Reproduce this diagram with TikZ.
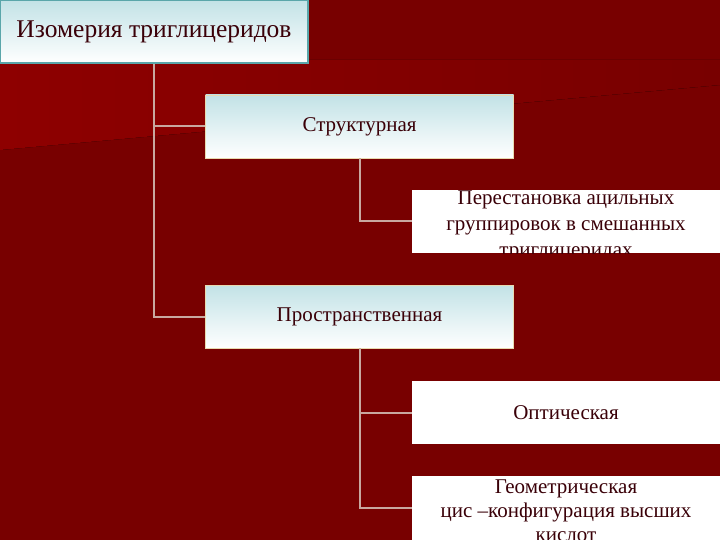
\documentclass[tikz,border=0pt]{standalone}
\usepackage{fontspec}
\setmainfont{Liberation Serif}
\usetikzlibrary{positioning}

\definecolor{slide}{HTML}{780000}
\definecolor{slidelight}{HTML}{8E0000}
\definecolor{wire}{HTML}{C8A8A0}
\definecolor{ink}{HTML}{3A0008}
\definecolor{frost}{HTML}{C2E2E6}
\definecolor{rim}{HTML}{E8DAB0}
\definecolor{tealrim}{HTML}{5AA6AA}

\begin{document}
\begin{tikzpicture}[x=1pt, y=-1pt,
  box/.style={rectangle, inner sep=0pt, minimum width=308pt, minimum height=63pt,
    text=ink, font=\fontsize{21}{26}\selectfont, align=center},
  frosted/.style={box, draw=rim, line width=0.8pt, top color=frost, bottom color=white},
  plain/.style={box, fill=white},
  link/.style={draw=wire, line width=2pt}]
  % slide background
  \useasboundingbox (0,0) rectangle (720,540);
  \clip (0,0) rectangle (720,540);
  \fill[slide] (0,0) rectangle (720,540);
  \fill[left color=slidelight, right color=slide] (0,60) -- (0,150) -- (720,85) -- (720,60) -- cycle;

  % boxes
  \node[frosted, draw=tealrim, line width=1.2pt, font=\fontsize{25.5}{30}\selectfont] (title) at (154,31.5) {Изомерия триглицеридов};
  \node[frosted] (struct) at (359.5,126.5) {Структурная};
  \node[plain, path picture={
      \node[text=ink, align=center, font=\fontsize{21}{26}\selectfont]
        at ([yshift=-4.5pt]path picture bounding box.center)
        {Перестановка ацильных\\группировок в смешанных\\триглицеридах};}] (perest) at (566,221.5) {};
  \node[frosted] (spat) at (359.5,316.5) {Пространственная};
  \node[plain] (optic) at (566,412.5) {Оптическая};
  \node[plain, minimum height=64pt, path picture={
      \node[text=ink, align=center, font=\fontsize{21}{24}\selectfont]
        at ([yshift=-2.5pt]path picture bounding box.center)
        {Геометрическая\\цис –конфигурация высших\\кислот};}] (geom) at (566,508) {};

  % connectors
  \draw[link] (title.south) |- (struct.west);
  \draw[link] (title.south) |- (spat.west);
  \draw[link] (struct.south) |- (perest.west);
  \draw[link] (spat.south) |- (optic.west);
  \draw[link] (spat.south) |- (geom.west);
\end{tikzpicture}
\end{document}
